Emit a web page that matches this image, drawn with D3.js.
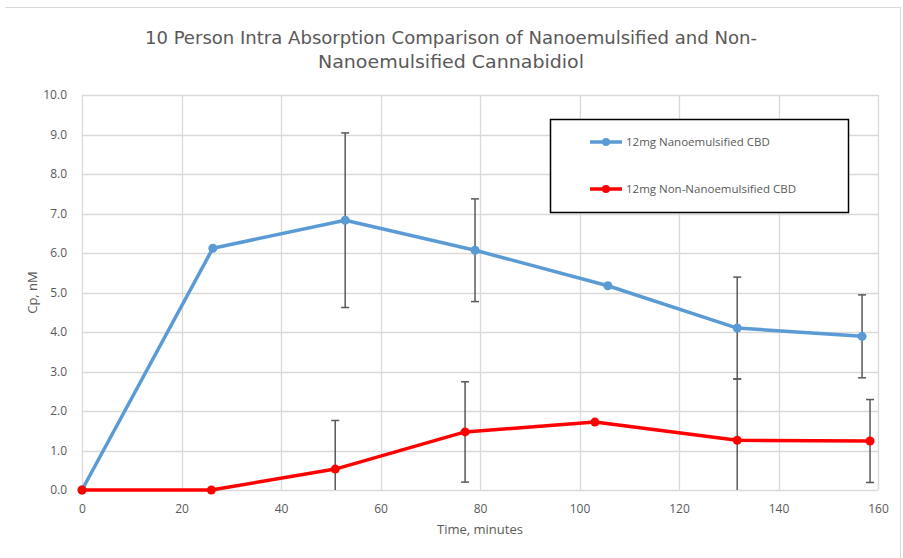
<!DOCTYPE html>
<html>
<head>
<meta charset="utf-8">
<script src="https://cdn.jsdelivr.net/npm/d3@7/dist/d3.min.js"></script>
<style>
  html, body { margin: 0; padding: 0; background: #fff; }
  svg { display: block; }
  text { font-family: "Open Sans", "Noto Sans", sans-serif; fill: #595959; }
</style>
</head>
<body>
<svg id="chart" width="903" height="558"></svg>
<script>
// ---- data ----
const titleLines = ["10 Person Intra Absorption Comparison of Nanoemulsified and Non-", "Nanoemulsified Cannabidiol"];
const seriesNames = ["12mg Nanoemulsified CBD", "12mg Non-Nanoemulsified CBD"];
const nanoTime = [0, 26.3, 52.9, 79.0, 105.7, 131.7, 156.8];
const nanoCp = [0, 6.12, 6.83, 6.07, 5.17, 4.10, 3.89];
const nanoErr = [null, null, 2.21, 1.30, null, 1.29, 1.05];
const nonTime = [0, 26.0, 50.9, 77.0, 103.1, 131.7, 158.4];
const nonCp = [0, 0, 0.53, 1.47, 1.72, 1.26, 1.24];
const nonErr = [null, null, 1.23, 1.27, null, 1.55, 1.05];
const xTicks = [0, 20, 40, 60, 80, 100, 120, 140, 160];
const yTicks = [0, 1, 2, 3, 4, 5, 6, 7, 8, 9, 10];
const colors = ["#5b9bd5", "#ff0000"];

const svg = d3.select("#chart");
const W = 903, H = 558;
const m = {left: 82, right: 25, top: 95, bottom: 68};
const x = d3.scaleLinear().domain([0, 160]).range([m.left, W - m.right]);
const y = d3.scaleLinear().domain([0, 10]).range([H - m.bottom, m.top]);

// outer chart border (partial, as in the reference)
svg.append("line").attr("x1", 5).attr("x2", 900).attr("y1", 7.5).attr("y2", 7.5).attr("stroke", "#d9d9d9");
svg.append("line").attr("x1", 900.5).attr("x2", 900.5).attr("y1", 7).attr("y2", 558).attr("stroke", "#d9d9d9");

// gridlines
svg.append("g").selectAll("line").data(yTicks).join("line")
  .attr("x1", x(0)).attr("x2", x(160))
  .attr("y1", d => Math.round(y(d)) + 0.5).attr("y2", d => Math.round(y(d)) + 0.5)
  .attr("stroke", "#d9d9d9").attr("stroke-width", 1.3);
svg.append("g").selectAll("line").data(xTicks).join("line")
  .attr("y1", y(0)).attr("y2", y(10))
  .attr("x1", d => Math.round(x(d)) + 0.5).attr("x2", d => Math.round(x(d)) + 0.5)
  .attr("stroke", "#d9d9d9").attr("stroke-width", 1.3);

// axes (labels only)
const yAxis = svg.append("g").attr("transform", `translate(${m.left - 12},0)`)
  .call(d3.axisLeft(y).tickValues(yTicks).tickFormat(d3.format(".1f")).tickSize(0));
yAxis.select(".domain").remove();
yAxis.selectAll("text").attr("font-size", 12).attr("fill", "#595959").attr("dx", 0)
  .style("font-family", "'Open Sans', sans-serif");
const xAxis = svg.append("g").attr("transform", `translate(0,${y(0) + 11})`)
  .call(d3.axisBottom(x).tickValues(xTicks).tickFormat(d3.format("d")).tickSize(0));
xAxis.select(".domain").remove();
xAxis.selectAll("text").attr("font-size", 12).attr("fill", "#595959")
  .style("font-family", "'Open Sans', sans-serif");

// axis titles
svg.append("text").attr("x", x(80)).attr("y", 534).attr("text-anchor", "middle")
  .attr("font-size", 13).text("Time, minutes");
svg.append("text").attr("transform", `translate(37,${y(5)}) rotate(-90)`)
  .attr("text-anchor", "middle").attr("font-size", 13).text("Cp, nM");

// title
titleLines.forEach((t, i) => {
  svg.append("text").attr("x", 451).attr("y", 44 + i * 24).attr("text-anchor", "middle")
    .attr("font-size", 18.5)
    .style("font-family", "'Liberation Sans Narrow', 'DejaVu Sans Condensed', 'Open Sans', sans-serif")
    .attr("textLength", i === 0 ? 612 : 266).attr("lengthAdjust", "spacingAndGlyphs")
    .text(t);
});

const series = [
  {time: nanoTime, cp: nanoCp, err: nanoErr, color: colors[0]},
  {time: nonTime, cp: nonCp, err: nonErr, color: colors[1]}
];

// error bars
series.forEach(s => {
  const g = svg.append("g");
  s.time.forEach((t, i) => {
    const e = s.err[i];
    if (e == null) return;
    const hi = y(Math.min(10, s.cp[i] + e));
    const lo0 = s.cp[i] - e;
    const lo = y(Math.max(0, lo0));
    const cx = x(t);
    g.append("line").attr("x1", cx).attr("x2", cx).attr("y1", hi).attr("y2", lo)
      .attr("stroke", "#595959").attr("stroke-width", 1.5);
    g.append("line").attr("x1", cx - 4).attr("x2", cx + 4).attr("y1", hi).attr("y2", hi)
      .attr("stroke", "#595959").attr("stroke-width", 1.5);
    if (lo0 >= 0) {
      g.append("line").attr("x1", cx - 4).attr("x2", cx + 4).attr("y1", lo).attr("y2", lo)
        .attr("stroke", "#595959").attr("stroke-width", 1.5);
    }
  });
});

// lines + markers
series.forEach(s => {
  const pts = s.time.map((t, i) => [t, s.cp[i]]);
  svg.append("path").datum(pts)
    .attr("fill", "none").attr("stroke", s.color).attr("stroke-width", 3.5)
    .attr("stroke-linejoin", "round")
    .attr("d", d3.line().x(d => x(d[0])).y(d => y(d[1])));
  svg.append("g").selectAll("circle").data(pts).join("circle")
    .attr("cx", d => x(d[0])).attr("cy", d => y(d[1])).attr("r", 4.5)
    .attr("fill", s.color);
});

// legend
const lg = svg.append("g");
lg.append("rect").attr("x", 550.5).attr("y", 119.5).attr("width", 298).attr("height", 93)
  .attr("fill", "#fff").attr("stroke", "#000").attr("stroke-width", 1.5);
seriesNames.forEach((n, i) => {
  const ly = 142 + i * 47;
  lg.append("line").attr("x1", 590).attr("x2", 622).attr("y1", ly).attr("y2", ly)
    .attr("stroke", colors[i]).attr("stroke-width", 3.5);
  lg.append("circle").attr("cx", 606).attr("cy", ly).attr("r", 4).attr("fill", colors[i]);
  lg.append("text").attr("x", 626).attr("y", ly + 4).attr("font-size", 11.5).text(n);
});
</script>
</body>
</html>
